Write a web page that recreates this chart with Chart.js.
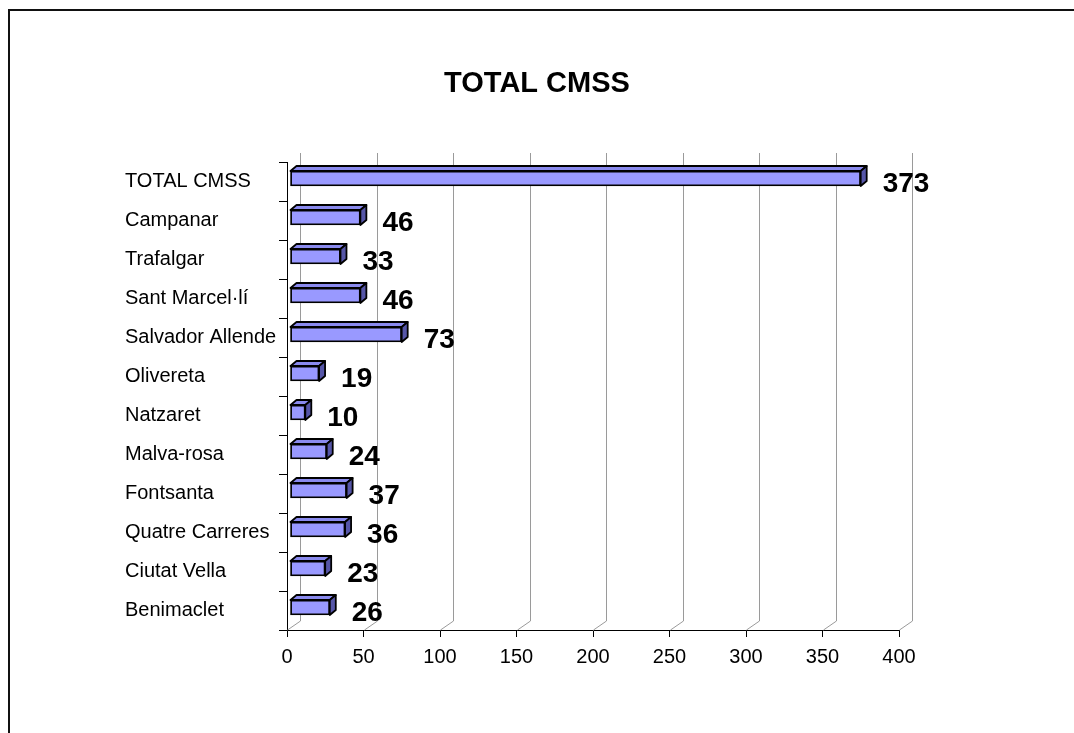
<!DOCTYPE html>
<html>
<head>
<meta charset="utf-8">
<title>TOTAL CMSS</title>
<script src="https://cdn.jsdelivr.net/npm/chart.js@4.4.1/dist/chart.umd.min.js"></script>
<style>
    body { margin: 0; background: #fff; overflow: hidden; }
    #wrap { position: relative; width: 1074px; height: 733px; }
    #frame { position: absolute; left: 8px; top: 9px; width: 1200px; height: 900px; border: 2px solid #111; }
    #chartBars { position: absolute; left: 0; top: 0; }
</style>
</head>
<body>
<div id="wrap">
    <div id="frame"></div>
    <canvas id="chartBars" width="1074" height="733"></canvas>
</div>
<script>
const chartTitle = "TOTAL CMSS"
const categories = ["TOTAL CMSS", "Campanar", "Trafalgar", "Sant Marcel·lí", "Salvador Allende", "Olivereta", "Natzaret", "Malva-rosa", "Fontsanta", "Quatre Carreres", "Ciutat Vella", "Benimaclet"]
const values = [373, 46, 33, 46, 73, 19, 10, 24, 37, 36, 23, 26]
const axisMin = 0
const axisMax = 400
const axisStep = 50

const fontFamily = "'Liberation Sans', Arial, sans-serif"
const depthX = 6
const depthY = -5
const wallX = 13
const wallY = -9

// back wall grid lines, with the little diagonal on the floor
const wallGrid = {
    id: "wallGrid",
    beforeDatasetsDraw(chart) {
        const ctx = chart.ctx
        const xs = chart.scales.x
        const area = chart.chartArea
        ctx.save()
        ctx.strokeStyle = "#9a9a9a"
        ctx.lineWidth = 1
        for (let v = axisMin; v <= axisMax; v += axisStep) {
            const px = Math.round(xs.getPixelForValue(v)) + 0.5
            ctx.beginPath()
            ctx.moveTo(px, area.bottom)
            ctx.lineTo(px + wallX, area.bottom + wallY)
            ctx.lineTo(px + wallX, area.top + wallY)
            ctx.stroke()
        }
        ctx.restore()
        // front face of the bars sits half way into the depth
        ctx.save()
        ctx.translate(3, -3)
    },
    afterDatasetsDraw(chart) {
        const ctx = chart.ctx
        const bars = chart.getDatasetMeta(0).data
        ctx.lineWidth = 1.8
        ctx.strokeStyle = "#000"
        ctx.lineJoin = "round"
        bars.forEach((bar) => {
            const p = bar.getProps(["x", "y", "base", "height"], true)
            const left = p.base
            const right = p.x
            const top = p.y - p.height / 2
            const bottom = p.y + p.height / 2
            // top face
            ctx.beginPath()
            ctx.moveTo(left, top)
            ctx.lineTo(left + depthX, top + depthY)
            ctx.lineTo(right + depthX, top + depthY)
            ctx.lineTo(right, top)
            ctx.closePath()
            ctx.fillStyle = "#8a8aee"
            ctx.fill()
            ctx.stroke()
            // side face
            ctx.beginPath()
            ctx.moveTo(right, top)
            ctx.lineTo(right + depthX, top + depthY)
            ctx.lineTo(right + depthX, bottom + depthY)
            ctx.lineTo(right, bottom)
            ctx.closePath()
            ctx.fillStyle = "#5656a8"
            ctx.fill()
            ctx.stroke()
        })
        ctx.restore()

        // value labels
        ctx.save()
        ctx.font = "bold 28px " + fontFamily
        ctx.fillStyle = "#000"
        ctx.textAlign = "left"
        ctx.textBaseline = "middle"
        bars.forEach((bar, i) => {
            const p = bar.getProps(["x", "y"], true)
            ctx.fillText(String(values[i]), p.x + 25, p.y + 3)
        })
        ctx.restore()
    },
    afterDraw(chart) {
        // title centred on the whole page, not on the plot
        const ctx = chart.ctx
        ctx.save()
        ctx.font = "bold 29px " + fontFamily
        ctx.fillStyle = "#000"
        ctx.textAlign = "center"
        ctx.textBaseline = "middle"
        ctx.fillText(chartTitle, chart.width / 2, 84)
        ctx.restore()
    },
}

const data = {
    labels: categories,
    datasets: [
        {
            label: chartTitle,
            data: values,
            backgroundColor: "#9999ff",
            borderColor: "#000",
            borderWidth: 1.8,
            borderSkipped: false,
            barThickness: 15,
        },
    ],
}

const config = {
    type: "bar",
    data: data,
    options: {
        indexAxis: "y",
        responsive: false,
        animation: false,
        layout: {
            padding: { top: 162, left: 125, right: 175, bottom: 0 },
        },
        plugins: {
            legend: { display: false },
            tooltip: { enabled: false },
            title: { display: false },
        },
        scales: {
            x: {
                min: axisMin,
                max: axisMax,
                ticks: {
                    stepSize: axisStep,
                    color: "#000",
                    padding: 8,
                    font: { family: fontFamily, size: 20 },
                    maxRotation: 0,
                },
                grid: { drawOnChartArea: false, tickLength: 7, color: "#000" },
                border: { color: "#000", width: 1 },
                afterFit(scale) {
                    scale.height = 103
                },
            },
            y: {
                ticks: {
                    color: "#000",
                    crossAlign: "far",
                    font: { family: fontFamily, size: 20 },
                },
                grid: { drawOnChartArea: false, tickLength: 8, color: "#000", offset: true },
                border: { color: "#000", width: 1 },
                afterFit(scale) {
                    scale.width = 162
                },
            },
        },
    },
    plugins: [wallGrid],
}

var chartBars = new Chart(document.getElementById("chartBars"), config)
</script>
</body>
</html>
